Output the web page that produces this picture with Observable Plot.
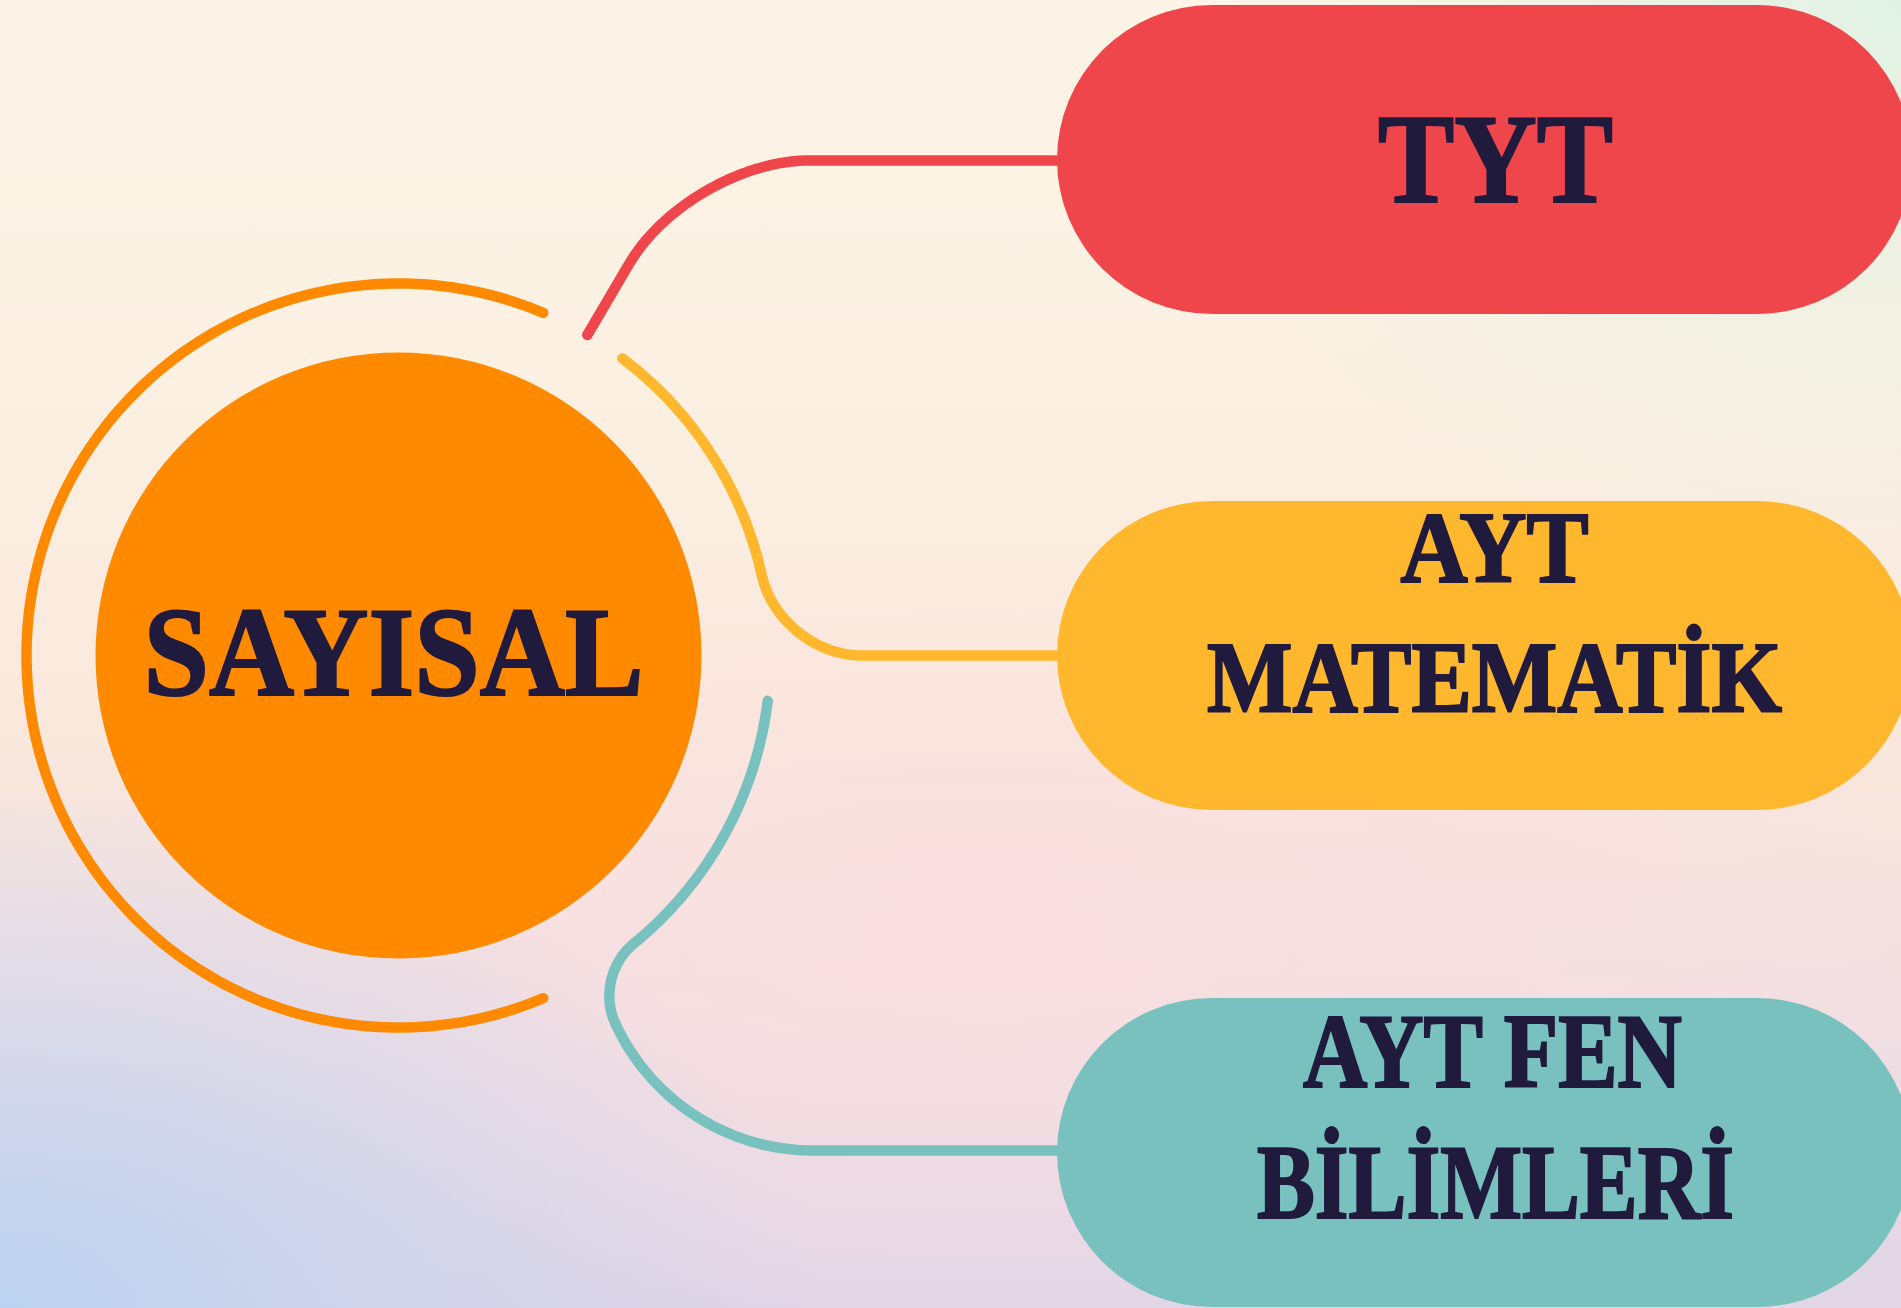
<!DOCTYPE html>
<html>
<head>
<meta charset="utf-8">
<script src="https://cdn.jsdelivr.net/npm/d3@7"></script>
<script src="https://cdn.jsdelivr.net/npm/@observablehq/plot@0.6"></script>
<style>
  html, body { margin: 0; padding: 0; overflow: hidden; }
  #stage {
    position: relative; width: 1901px; height: 1308px; overflow: hidden;
    background:
      radial-gradient(ellipse 820px 520px at 0% 100%, rgba(188,210,240,1) 0%, rgba(196,212,238,0.6) 45%, rgba(200,210,235,0) 100%),
      radial-gradient(ellipse 720px 620px at 100% 0%, rgba(225,242,228,1) 0%, rgba(230,241,228,0.5) 50%, rgba(232,240,228,0) 100%),
      radial-gradient(ellipse 950px 380px at 52% 72%, rgba(251,222,224,0.8) 0%, rgba(251,222,224,0) 100%),
      linear-gradient(to bottom, #fcf4e7 0%, #fbf0e2 30%, #fae8dc 55%, #f1dfe3 78%, #e1d5e6 100%);
  }
  #stage svg { display: block; background: transparent; }
</style>
</head>
<body>
<div id="stage"></div>
<script>
// ---------- content ----------
const hubLabel = "SAYISAL";
const categories = ["TYT", "AYT MATEMATİK", "AYT FEN BİLİMLERİ"];
const labelLines = [["TYT"], ["AYT", "MATEMATİK"], ["AYT FEN", "BİLİMLERİ"]];

// ---------- styles ----------
const hubColor = "#ff8a00";
const pillColors = ["#ef464b", "#ffb82e", "#79c1bf"];
const textColor = "#201a3c";

// ---------- layout (pixels) ----------
const W = 1901, H = 1308;
const hub = {x: 398, y: 655, r: 303};
const ringR = 372, lineW = 10.5;
const pillX1 = 1057, pillX2 = 1912, pillRx = 155;
const pillY = [[5, 314], [501, 810], [998, 1307]];
const linkY = [160, 655, 1150];
const hubText = {x: 393, base: 694, size: 128, width: 500};
const lineLayout = [
  [{x: 1495, base: 201, size: 128, width: 235}],
  [{x: 1494, base: 581, size: 101, width: 188}, {x: 1494, base: 711, size: 101, width: 575}],
  [{x: 1492, base: 1086, size: 105, width: 379}, {x: 1495, base: 1217, size: 105, width: 477}]
];

// ---------- geometry helpers ----------
const rad = a => a * Math.PI / 180;
const polar = (cx, cy, r, a) => [cx + r * Math.cos(rad(a)), cy + r * Math.sin(rad(a))];
function arc(cx, cy, r, a0, a1, n = 90) {
  const p = [];
  for (let i = 0; i <= n; i++) p.push(polar(cx, cy, r, a0 + (a1 - a0) * i / n));
  return p;
}
function cubic(p0, p1, p2, p3, n = 40) {
  const p = [];
  for (let i = 0; i <= n; i++) {
    const t = i / n, u = 1 - t;
    p.push([
      u*u*u*p0[0] + 3*u*u*t*p1[0] + 3*u*t*t*p2[0] + t*t*t*p3[0],
      u*u*u*p0[1] + 3*u*u*t*p1[1] + 3*u*t*t*p2[1] + t*t*t*p3[1]
    ]);
  }
  return p;
}
// rounded corner from point p going in direction d to horizontal line at y = yh heading right
function cornerToHorizontal(p, d, yh) {
  const t = (yh - p[1]) / d[1];
  const c = [p[0] + t * d[0], yh];
  const e = [c[0] + t, yh];
  const k = 0.56 * t;
  return cubic(p, [p[0] + k * d[0], p[1] + k * d[1]], [e[0] - k, yh], e);
}

// ring (orange, left part)
const ringPts = arc(hub.x, hub.y, ringR, 67.1, 292.9, 200);

// red connector: radial segment then corner to horizontal
const redA = -59.5;
const redDir = [Math.cos(rad(redA)), Math.sin(rad(redA))];
const red0 = polar(hub.x, hub.y, ringR, redA);
const red1 = polar(hub.x, hub.y, 455, redA);
const redPts = [red0, ...cornerToHorizontal(red1, redDir, linkY[0]), [pillX1 + 30, linkY[0]]];

// yellow connector: ring arc then corner
const yA1 = -12.5;
const yArc = arc(hub.x, hub.y, ringR, -53, yA1, 60);
const yEnd = yArc[yArc.length - 1];
const yDir = [-Math.sin(rad(yA1)), Math.cos(rad(yA1))];
const yellowPts = [...yArc, ...cornerToHorizontal(yEnd, yDir, linkY[1]), [pillX1 + 30, linkY[1]]];

// teal connector: ring arc, small loop, outer arc, horizontal
const tA1 = 50.8;
const tArc = arc(hub.x, hub.y, ringR, 7, tA1, 60);
const t0 = tArc[tArc.length - 1];
const d0 = [-Math.sin(rad(tA1)), Math.cos(rad(tA1))];
const loopR = 218, loopC = [813, linkY[2] - loopR], loopA0 = 155.7;
const t3 = polar(loopC[0], loopC[1], loopR, loopA0);
const d1 = [Math.sin(rad(loopA0)), -Math.cos(rad(loopA0))];
const k = 29;
const tLoop = cubic(t0, [t0[0] + k*d0[0], t0[1] + k*d0[1]], [t3[0] - k*d1[0], t3[1] - k*d1[1]], t3);
const tArc2 = arc(loopC[0], loopC[1], loopR, loopA0, 90, 60);
const tealPts = [...tArc, ...tLoop, ...tArc2, [pillX1 + 30, linkY[2]]];

// ---------- tables ----------
const pills = categories.map((c, i) => ({
  category: c, x1: pillX1, x2: pillX2, y1: pillY[i][0], y2: pillY[i][1], color: pillColors[i]
}));
const texts = [{text: hubLabel, ...hubText}];
labelLines.forEach((lines, i) => lines.forEach((t, j) => texts.push({text: t, ...lineLayout[i][j]})));

const X = d => d[0], Y = d => d[1];
const lineOpts = {x: X, y: Y, strokeWidth: lineW, strokeLinecap: "round", strokeLinejoin: "round", curve: "linear"};

const svg = Plot.plot({
  width: W, height: H,
  margin: 0, marginTop: 0, marginRight: 0, marginBottom: 0, marginLeft: 0,
  x: {domain: [0, W], range: [0, W], axis: null},
  y: {domain: [0, H], range: [0, H], axis: null},
  color: {type: "identity"},
  style: {background: "transparent", overflow: "hidden"},
  marks: [
    Plot.line(ringPts, {...lineOpts, stroke: hubColor}),
    Plot.line(redPts, {...lineOpts, stroke: pillColors[0]}),
    Plot.line(yellowPts, {...lineOpts, stroke: pillColors[1]}),
    Plot.line(tealPts, {...lineOpts, stroke: pillColors[2]}),
    Plot.rect(pills, {x1: "x1", x2: "x2", y1: "y1", y2: "y2", fill: "color", rx: pillRx}),
    Plot.dot([hub], {x: "x", y: "y", r: hub.r, fill: hubColor, stroke: null}),
    Plot.text(texts, {
      x: "x", y: "base", text: "text", fontSize: d => d.size,
      lineAnchor: "bottom", textAnchor: "middle",
      fontFamily: "Liberation Serif", fontWeight: "bold", fill: textColor,
      stroke: textColor, strokeWidth: 2.2, strokeLinejoin: "miter"
    })
  ]
});
document.getElementById("stage").appendChild(svg);

// condense glyphs to the measured label widths
d3.select(svg).selectAll("g[aria-label='text'] text").each(function(d, i) {
  const idx = typeof d === "number" ? d : i;
  this.setAttribute("textLength", texts[idx].width);
  this.setAttribute("lengthAdjust", "spacingAndGlyphs");
});
</script>
</body>
</html>
